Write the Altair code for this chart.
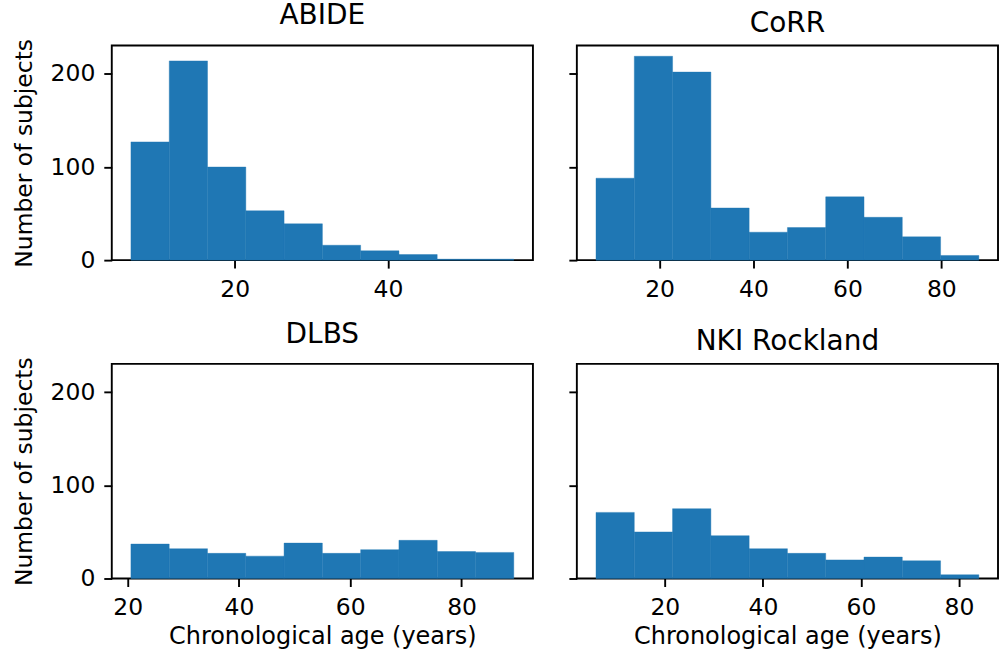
import altair as alt
import pandas as pd

# ---- data (bin edges in years, counts per bin) ----
abide_edges = [6.47, 11.47, 16.46, 21.46, 26.45, 31.45, 36.44, 41.44, 46.43, 51.43, 56.42]
abide_counts = [127, 214, 100, 53, 39, 16, 10, 6, 1, 1]

corr_edges = [6.45, 14.61, 22.76, 30.92, 39.07, 47.23, 55.38, 63.54, 71.69, 79.85, 88.0]
corr_counts = [88, 219, 202, 56, 30, 35, 68, 46, 25, 5]

dlbs_edges = [20.59, 27.47, 34.35, 41.23, 48.11, 54.99, 61.87, 68.75, 75.63, 82.51, 89.39]
dlbs_counts = [37, 32, 27, 24, 38, 27, 31, 41, 29, 28]

nki_edges = [5.95, 13.76, 21.57, 29.39, 37.20, 45.01, 52.82, 60.63, 68.45, 76.26, 84.07]
nki_counts = [71, 50, 75, 46, 32, 27, 20, 23, 19, 4]

titles = ["ABIDE", "CoRR", "DLBS", "NKI Rockland"]
x_domains = [[3.97, 58.92], [2.37, 92.08], [17.15, 92.83], [2.04, 87.98]]
x_ticks = [[20, 40], [20, 40, 60, 80], [20, 40, 60, 80], [20, 40, 60, 80]]
y_ticks = [0, 100, 200]
y_max = 230.5

BLUE = "#1f77b4"
FONT = "DejaVu Sans"
W, H = 422, 215


def panel(title, edges, counts, xdom, xt, left, bottom):
    df = pd.DataFrame({
        "start": edges[:-1],
        "end": edges[1:],
        "count": counts,
    })
    yaxis = alt.Axis(
        values=y_ticks,
        labels=left,
        title="Number of subjects" if left else None,
        minExtent=0,
        titlePadding=14,
        titleFontSize=23.5,
    )
    xaxis = alt.Axis(
        values=xt,
        title="Chronological age (years)" if bottom else None,
        titlePadding=6,
        titleFontSize=24,
        labelFlush=False,
    )
    return (
        alt.Chart(df, title=alt.TitleParams(title))
        .mark_bar(color=BLUE, stroke=BLUE, strokeWidth=0.4)
        .encode(
            x=alt.X("start:Q", scale=alt.Scale(domain=xdom, nice=False, zero=False, padding=0), axis=xaxis),
            x2="end:Q",
            y=alt.Y("count:Q", scale=alt.Scale(domain=[0, y_max], nice=False, padding=0), axis=yaxis),
            y2=alt.datum(0),
        )
        .properties(width=W, height=H)
    )


p1 = panel(titles[0], abide_edges, abide_counts, x_domains[0], x_ticks[0], True, False)
p2 = panel(titles[1], corr_edges, corr_counts, x_domains[1], x_ticks[1], False, False)
p3 = panel(titles[2], dlbs_edges, dlbs_counts, x_domains[2], x_ticks[2], True, True)
p4 = panel(titles[3], nki_edges, nki_counts, x_domains[3], x_ticks[3], False, True)

chart = (
    alt.vconcat(
        alt.hconcat(p1, p2, spacing=33),
        alt.hconcat(p3, p4, spacing=33),
        spacing=17,
    )
    .properties(padding={"left": 11, "top": 0, "right": 2, "bottom": 2})
    .configure_view(stroke="black", strokeWidth=1.9)
    .configure_axis(
        domain=False,
        grid=False,
        ticks=True,
        tickColor="black",
        tickWidth=1.9,
        tickSize=8,
        labelFont=FONT,
        labelFontSize=23.5,
        labelColor="black",
        labelPadding=9,
        titleFont=FONT,
        titleFontWeight="normal",
        titleColor="black",
        labelOverlap=False,
    )
    .configure_title(font=FONT, fontSize=28, fontWeight="normal", color="black", offset=8)
)

chart.save("out.html", embed_options={"renderer": "svg", "actions": False})
